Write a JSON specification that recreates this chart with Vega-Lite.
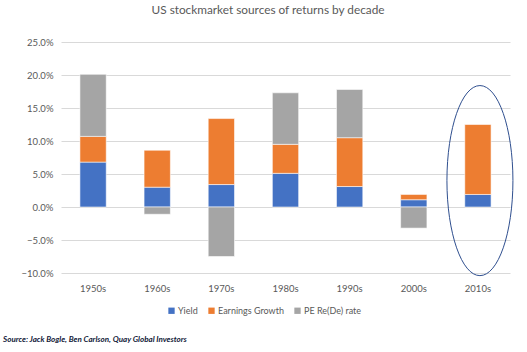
{
  "$schema": "https://vega.github.io/schema/vega-lite/v6.json",
  "background": "white",
  "padding": {"left": 3, "top": 5, "right": 5, "bottom": 3},
  "title": {"text": "Source: Jack Bogle, Ben Carlson, Quay Global Investors", "orient": "bottom", "anchor": "start", "frame": "bounds", "font": "Lato", "fontSize": 8, "fontStyle": "italic", "fontWeight": "bold", "color": "#101838", "offset": 20, "dx": -18},
  "config": {"view": {"stroke": null}, "font": "Lato"},
  "vconcat": [
    {
      "width": 449,
      "height": 231,
      "title": {"text": "US stockmarket sources of returns by decade", "font": "Lato", "fontSize": 11.8, "fontWeight": "normal", "color": "#595959", "anchor": "middle", "frame": "bounds", "offset": 20},
      "data": {"values": [
        {"decade": "1950s", "component": "Yield", "order": 1, "value": 0.068},
        {"decade": "1950s", "component": "Earnings Growth", "order": 2, "value": 0.039},
        {"decade": "1950s", "component": "PE Re(De) rate", "order": 3, "value": 0.094},
        {"decade": "1960s", "component": "Yield", "order": 1, "value": 0.030},
        {"decade": "1960s", "component": "Earnings Growth", "order": 2, "value": 0.056},
        {"decade": "1960s", "component": "PE Re(De) rate", "order": 3, "value": -0.011},
        {"decade": "1970s", "component": "Yield", "order": 1, "value": 0.034},
        {"decade": "1970s", "component": "Earnings Growth", "order": 2, "value": 0.100},
        {"decade": "1970s", "component": "PE Re(De) rate", "order": 3, "value": -0.075},
        {"decade": "1980s", "component": "Yield", "order": 1, "value": 0.051},
        {"decade": "1980s", "component": "Earnings Growth", "order": 2, "value": 0.044},
        {"decade": "1980s", "component": "PE Re(De) rate", "order": 3, "value": 0.078},
        {"decade": "1990s", "component": "Yield", "order": 1, "value": 0.031},
        {"decade": "1990s", "component": "Earnings Growth", "order": 2, "value": 0.074},
        {"decade": "1990s", "component": "PE Re(De) rate", "order": 3, "value": 0.073},
        {"decade": "2000s", "component": "Yield", "order": 1, "value": 0.011},
        {"decade": "2000s", "component": "Earnings Growth", "order": 2, "value": 0.008},
        {"decade": "2000s", "component": "PE Re(De) rate", "order": 3, "value": -0.032},
        {"decade": "2010s", "component": "Yield", "order": 1, "value": 0.019},
        {"decade": "2010s", "component": "Earnings Growth", "order": 2, "value": 0.106}
      ]},
      "layer": [
        {
          "mark": {"type": "bar", "stroke": "white", "strokeWidth": 0.8, "strokeOpacity": 0.7},
          "encoding": {
            "x": {"field": "decade", "type": "ordinal", "scale": {"paddingInner": 0.59, "paddingOuter": 0.295}, "axis": {"title": null, "labelAngle": 0, "ticks": false, "domain": false, "labelFont": "Lato", "labelFontSize": 9.5, "labelColor": "#595959", "labelPadding": 10}},
            "y": {"field": "value", "type": "quantitative", "stack": "zero", "scale": {"domain": [-0.10, 0.25], "nice": false}, "axis": {"title": null, "format": ".1%", "values": [-0.10, -0.05, 0, 0.05, 0.10, 0.15, 0.20, 0.25], "tickCount": 10, "labelOverlap": false, "domain": false, "ticks": false, "gridColor": "#d9d9d9", "labelFont": "Lato", "labelFontSize": 9.5, "labelColor": "#595959", "labelPadding": 8}},
            "color": {"field": "component", "type": "nominal", "scale": {"domain": ["Yield", "Earnings Growth", "PE Re(De) rate"], "range": ["#4472C4", "#ED7D31", "#A5A5A5"]}, "legend": {"title": null, "orient": "none", "legendX": 106, "legendY": 264, "direction": "horizontal", "symbolType": "square", "symbolSize": 40, "symbolStrokeWidth": 0, "labelFont": "Lato", "labelFontSize": 9, "labelColor": "#595959", "columnPadding": 9, "labelOffset": 2}},
            "order": {"field": "order", "type": "quantitative"}
          }
        },
        {
          "data": {"values": [{"decade": "2010s", "center": 0.04}]},
          "mark": {"type": "point", "shape": "M0,-2.88 A1,2.88 0 1,1 0,2.88 A1,2.88 0 1,1 0,-2.88 Z", "size": 4356, "filled": false, "stroke": "#2F4F8F", "strokeWidth": 1, "opacity": 1, "clip": false, "xOffset": 2},
          "encoding": {
            "x": {"field": "decade", "type": "ordinal"},
            "y": {"field": "center", "type": "quantitative"}
          }
        }
      ]
    }
  ]
}
